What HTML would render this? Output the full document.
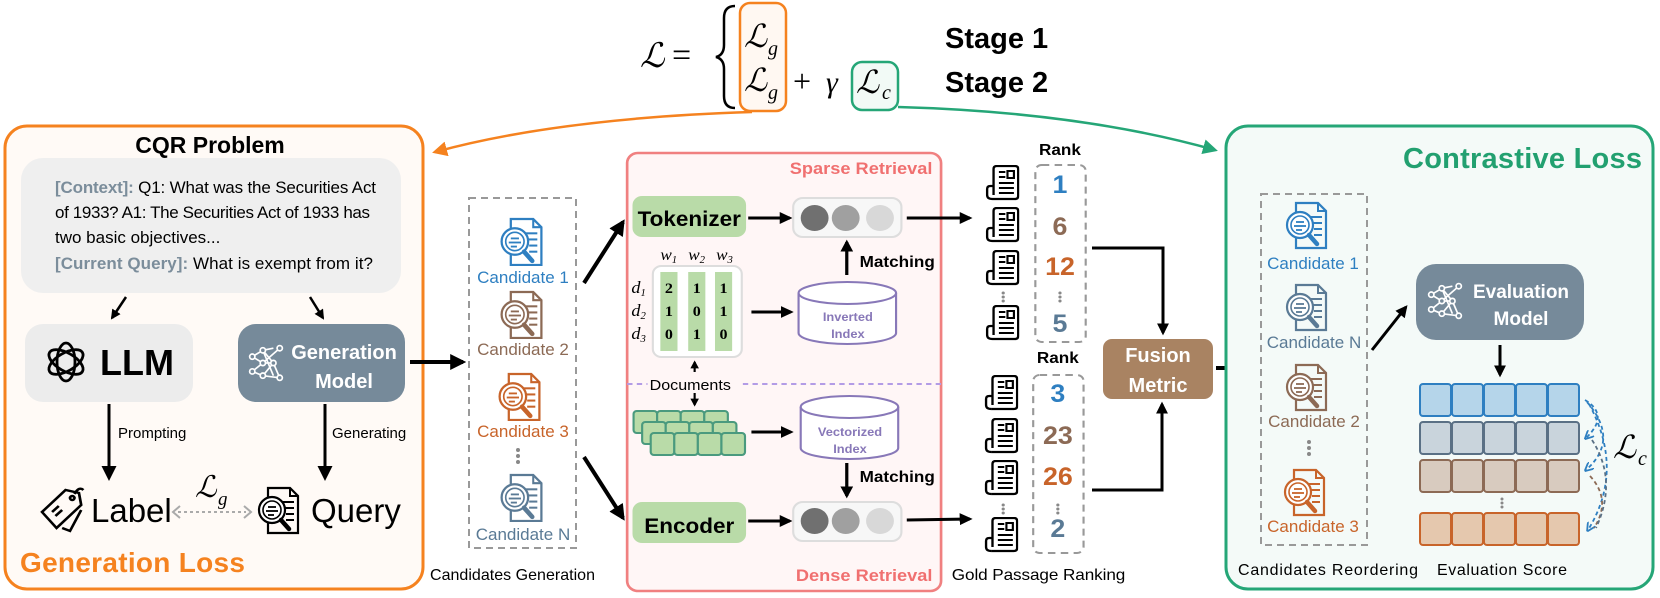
<!DOCTYPE html>
<html><head><meta charset="utf-8"><style>
html,body{margin:0;padding:0;background:#fff;}
svg{display:block;font-family:"Liberation Sans",sans-serif;}
.ser{font-family:"Liberation Serif",serif;font-style:italic;}
</style></head><body>
<svg width="1660" height="598" viewBox="0 0 1660 598" xmlns="http://www.w3.org/2000/svg">
<defs>
<marker id="ah" viewBox="0 0 10 10" refX="8" refY="5" markerWidth="5" markerHeight="5" orient="auto"><path d="M0,0 L10,5 L0,10 z" fill="#000"/></marker>
<marker id="ahs" viewBox="0 0 10 10" refX="8" refY="5" markerWidth="4" markerHeight="4" orient="auto"><path d="M0,0 L10,5 L0,10 z" fill="#000"/></marker>
<marker id="aho" viewBox="0 0 10 10" refX="8" refY="5" markerWidth="6" markerHeight="6" orient="auto"><path d="M0,0 L10,5 L0,10 z" fill="#f5821f"/></marker>
<marker id="ahg" viewBox="0 0 10 10" refX="8" refY="5" markerWidth="6" markerHeight="6" orient="auto"><path d="M0,0 L10,5 L0,10 z" fill="#25a677"/></marker>
<marker id="ahb" viewBox="0 0 10 10" refX="8" refY="5" markerWidth="5" markerHeight="5" orient="auto"><path d="M0,0 L10,5 L0,10" fill="none" stroke="#2e7fc1" stroke-width="2"/></marker>
<symbol id="cand" viewBox="0 0 44 50">
<path d="M12 2 H34 L42 10 V47 H12 Z" fill="none" stroke="currentColor" stroke-width="2.2"/>
<path d="M34 2 V10 H42" fill="none" stroke="currentColor" stroke-width="2"/>
<g stroke="currentColor" stroke-width="2"><line x1="24" y1="16" x2="38" y2="16"/><line x1="28" y1="22" x2="38" y2="22"/><line x1="30" y1="28" x2="38" y2="28"/><line x1="30" y1="34" x2="38" y2="34"/></g>
<circle cx="16" cy="24" r="13" fill="#fff" stroke="currentColor" stroke-width="2.2"/>
<circle cx="16" cy="24" r="9" fill="none" stroke="currentColor" stroke-width="1.6"/>
<g stroke="currentColor" stroke-width="1.8"><line x1="12" y1="21" x2="20" y2="21"/><line x1="10" y1="25" x2="22" y2="25"/><line x1="12" y1="29" x2="18" y2="29"/></g>
<path d="M25 34 L33 43" stroke="currentColor" stroke-width="4.5" stroke-linecap="round"/>
</symbol>
<symbol id="doc" viewBox="0 0 34 36">
<path d="M9 34 H30 Q33 34 33 31 V4 Q33 1 30 1 H13 Q10 1 10 4 V30" fill="none" stroke="#000" stroke-width="2.2"/>
<path d="M9 34 Q4 34 4 30 V24 Q4 21 7 21 H10" fill="none" stroke="#000" stroke-width="2.2"/>
<g stroke="#000" stroke-width="2"><line x1="15" y1="7" x2="21" y2="7"/><line x1="15" y1="12" x2="21" y2="12"/><rect x="23" y="6" width="6" height="7" fill="none"/><line x1="15" y1="18" x2="29" y2="18"/><line x1="15" y1="23" x2="29" y2="23"/><line x1="15" y1="28" x2="29" y2="28"/></g>
</symbol>
<symbol id="net" viewBox="0 0 34 36">
<g stroke="#fff" stroke-width="1.6" fill="none">
<line x1="4" y1="12" x2="14" y2="6"/><line x1="4" y1="12" x2="14" y2="18"/><line x1="4" y1="26" x2="14" y2="18"/><line x1="4" y1="26" x2="14" y2="30"/><line x1="14" y1="6" x2="24" y2="4"/><line x1="14" y1="6" x2="24" y2="18"/><line x1="14" y1="18" x2="24" y2="18"/><line x1="14" y1="18" x2="30" y2="4"/><line x1="14" y1="30" x2="24" y2="18"/><line x1="14" y1="30" x2="30" y2="32"/><line x1="24" y1="18" x2="30" y2="32"/><line x1="14" y1="6" x2="24" y2="30"/>
<circle cx="4" cy="12" r="2.5" fill="#768a9a"/><circle cx="4" cy="26" r="2.5" fill="#768a9a"/><circle cx="14" cy="6" r="2.5" fill="#768a9a"/><circle cx="14" cy="18" r="2.5" fill="#768a9a"/><circle cx="14" cy="30" r="2.5" fill="#768a9a"/><circle cx="24" cy="18" r="2.5" fill="#768a9a"/><circle cx="30" cy="4" r="2.5" fill="#768a9a"/><circle cx="30" cy="32" r="2.5" fill="#768a9a"/>
</g>
</symbol>
</defs>

<!-- Formula -->
<text x="640" y="67" class="ser" font-size="34">ℒ</text>
<text x="672" y="66" font-family="Liberation Serif" font-size="34">=</text>
<path d="M735 6 Q724 6 724 18 V45 Q724 55 716 57 Q724 59 724 69 V96 Q724 108 735 108" fill="none" stroke="#000" stroke-width="2.5"/>
<rect x="740" y="3" width="46" height="108" rx="10" fill="#fff8f2" stroke="#f5821f" stroke-width="2.5"/>
<text x="744" y="47" class="ser" font-size="32">ℒ</text><text x="768" y="55" class="ser" font-size="20">g</text>
<text x="744" y="91" class="ser" font-size="32">ℒ</text><text x="768" y="99" class="ser" font-size="20">g</text>
<text x="793" y="92" font-family="Liberation Serif" font-size="32">+</text>
<text x="826" y="92" class="ser" font-size="30">γ</text>
<rect x="852" y="62" width="46" height="48" rx="10" fill="#f2faf6" stroke="#25a677" stroke-width="2.5"/>
<text x="856" y="93" class="ser" font-size="32">ℒ</text><text x="882" y="99" class="ser" font-size="20">c</text>
<text x="945" y="48" font-size="29" font-weight="bold">Stage 1</text>
<text x="945" y="92" font-size="29" font-weight="bold">Stage 2</text>

<!-- top curved arrows -->
<path d="M752 112 Q560 118 435 152" fill="none" stroke="#f5821f" stroke-width="2.5" marker-end="url(#aho)"/>
<path d="M898 107 Q1080 112 1215 150" fill="none" stroke="#25a677" stroke-width="2.5" marker-end="url(#ahg)"/>

<!-- Left box -->
<rect x="5" y="126" width="418" height="463" rx="22" fill="#fffaf6" stroke="#f5821f" stroke-width="3"/>
<text x="210" y="153" font-size="23" font-weight="bold" text-anchor="middle">CQR Problem</text>
<rect x="21" y="158" width="380" height="135" rx="22" fill="#efefef"/>
<g font-size="17">
<text x="55" y="193" textLength="321"><tspan fill="#7b8d9b" font-weight="bold">[Context]:</tspan> Q1: What was the Securities Act</text>
<text x="55" y="218" textLength="315">of 1933? A1: The Securities Act of 1933 has</text>
<text x="55" y="243">two basic objectives...</text>
<text x="55" y="269" textLength="318"><tspan fill="#7b8d9b" font-weight="bold">[Current Query]:</tspan> What is exempt from it?</text>
</g>
<line x1="126" y1="297" x2="112" y2="318" stroke="#000" stroke-width="2.5" marker-end="url(#ahs)"/>
<line x1="310" y1="297" x2="323" y2="318" stroke="#000" stroke-width="2.5" marker-end="url(#ahs)"/>
<rect x="25" y="324" width="168" height="78" rx="18" fill="#ececec"/>
<g fill="none" stroke="#000" stroke-width="2.8">
<ellipse cx="66" cy="362" rx="9" ry="19"/><ellipse cx="66" cy="362" rx="9" ry="19" transform="rotate(60 66 362)"/><ellipse cx="66" cy="362" rx="9" ry="19" transform="rotate(120 66 362)"/>
</g>
<text x="100" y="375" font-size="36" font-weight="bold">LLM</text>
<rect x="238" y="324" width="167" height="78" rx="18" fill="#768a9a"/>
<use href="#net" x="248" y="344" width="36" height="38"/>
<text x="344" y="359" font-size="20" font-weight="bold" fill="#fff" text-anchor="middle">Generation</text>
<text x="344" y="388" font-size="20" font-weight="bold" fill="#fff" text-anchor="middle">Model</text>
<line x1="109" y1="404" x2="109" y2="478" stroke="#000" stroke-width="3" marker-end="url(#ah)"/>
<line x1="325" y1="404" x2="325" y2="478" stroke="#000" stroke-width="3" marker-end="url(#ah)"/>
<text x="118" y="438" font-size="15">Prompting</text>
<text x="332" y="438" font-size="15">Generating</text>
<g fill="none" stroke="#000" stroke-width="2.4" transform="translate(42,0) scale(1.12,1) translate(-37,0)">
<path d="M37 512 L58 490 L70 493 L72 505 L50 528 Z"/><path d="M55 528 L62 531 L72 510"/><circle cx="64" cy="498" r="2"/><path d="M66 494 Q70 486 74 490"/><line x1="46" y1="512" x2="52" y2="506"/><line x1="49" y1="516" x2="55" y2="510"/>
</g>
<text x="91" y="522" font-size="33">Label</text>
<line x1="178" y1="512" x2="246" y2="512" stroke="#aaa" stroke-width="2" stroke-dasharray="3,3"/>
<path d="M180 506 L173 512 L180 518 M244 506 L251 512 L244 518" fill="none" stroke="#aaa" stroke-width="2"/>
<text x="195" y="497" class="ser" font-size="30">ℒ</text><text x="218" y="505" class="ser" font-size="19">g</text>
<g color="#000"><use href="#cand" x="255" y="486" width="46" height="50"/></g>
<text x="311" y="522" font-size="33">Query</text>
<text x="20" y="572" font-size="28" font-weight="bold" fill="#f5821f" textLength="225">Generation Loss</text>

<!-- arrow to candidates -->
<line x1="410" y1="362" x2="463" y2="362" stroke="#000" stroke-width="4" marker-end="url(#ahs)"/>

<!-- candidates generation -->
<rect x="469" y="198" width="107" height="350" fill="none" stroke="#999" stroke-width="2" stroke-dasharray="7,5"/>
<g color="#2e7fc1"><use href="#cand" x="498" y="217" width="46" height="51"/></g>
<text x="523" y="283" font-size="17" fill="#2e7fc1" text-anchor="middle">Candidate 1</text>
<g color="#8c6a55"><use href="#cand" x="498" y="290" width="46" height="51"/></g>
<text x="523" y="355" font-size="17" fill="#8c6a55" text-anchor="middle">Candidate 2</text>
<g color="#c8642a"><use href="#cand" x="496" y="372" width="46" height="51"/></g>
<text x="523" y="437" font-size="17" fill="#c8642a" text-anchor="middle">Candidate 3</text>
<g fill="#888"><circle cx="518" cy="450" r="2"/><circle cx="518" cy="456" r="2"/><circle cx="518" cy="462" r="2"/></g>
<g color="#5a7a95"><use href="#cand" x="498" y="473" width="46" height="51"/></g>
<text x="523" y="540" font-size="17" fill="#5a7a95" text-anchor="middle">Candidate N</text>
<text x="430" y="580" font-size="16" textLength="165">Candidates Generation</text>

<line x1="584" y1="283" x2="623" y2="222" stroke="#000" stroke-width="4" marker-end="url(#ahs)"/>
<line x1="584" y1="457" x2="623" y2="518" stroke="#000" stroke-width="4" marker-end="url(#ahs)"/>

<!-- middle section (x-stretched) -->
<g transform="translate(580,0) scale(1.0714,1) translate(-580,0)">
<rect x="624" y="153" width="293" height="438" rx="10" fill="#fff6f6" stroke="#f08080" stroke-width="2.5"/>
<text x="909" y="174" font-size="17" font-weight="bold" fill="#f07070" text-anchor="end">Sparse Retrieval</text>
<text x="909" y="581" font-size="17" font-weight="bold" fill="#f07070" text-anchor="end">Dense Retrieval</text>
<line x1="624" y1="384" x2="917" y2="384" stroke="#b39ce6" stroke-width="2" stroke-dasharray="5,4"/>
<rect x="629" y="196" width="106" height="41" rx="9" fill="#b9dba8"/>
<text x="682" y="226" font-size="21" font-weight="bold" text-anchor="middle">Tokenizer</text>
<line x1="737" y1="218" x2="776" y2="218" stroke="#000" stroke-width="3" marker-end="url(#ahs)"/>
<rect x="779" y="198" width="101" height="39" rx="9" fill="#f7f7f7" stroke="#ddd" stroke-width="2"/>
<circle cx="799" cy="218" r="13" fill="#707070"/><circle cx="828" cy="218" r="13" fill="#a0a0a0"/><circle cx="860" cy="218" r="13" fill="#d8d8d8"/>
<line x1="885" y1="218" x2="944" y2="218" stroke="#000" stroke-width="3" marker-end="url(#ahs)"/>
<line x1="829" y1="275" x2="829" y2="242" stroke="#000" stroke-width="3" marker-end="url(#ahs)"/>
<text x="841" y="267" font-size="16" font-weight="bold">Matching</text>
<g class="ser" font-size="16"><text x="655" y="260">w<tspan font-size="10" dy="3">1</tspan></text><text x="681" y="260">w<tspan font-size="10" dy="3">2</tspan></text><text x="707" y="260">w<tspan font-size="10" dy="3">3</tspan></text></g>
<rect x="648" y="266" width="83" height="91" rx="8" fill="#fff" stroke="#ddd" stroke-width="2"/>
<rect x="655" y="272" width="16" height="79" fill="#b9dba8"/><rect x="681" y="272" width="16" height="79" fill="#b9dba8"/><rect x="706" y="272" width="16" height="79" fill="#b9dba8"/>
<g font-family="Liberation Serif" font-weight="bold" font-size="15" text-anchor="middle">
<text x="663" y="293">2</text><text x="689" y="293">1</text><text x="714" y="293">1</text>
<text x="663" y="316">1</text><text x="689" y="316">0</text><text x="714" y="316">1</text>
<text x="663" y="339">0</text><text x="689" y="339">1</text><text x="714" y="339">0</text></g>
<g class="ser" font-size="17"><text x="628" y="293">d<tspan font-size="10" dy="3">1</tspan></text><text x="628" y="316">d<tspan font-size="10" dy="3">2</tspan></text><text x="628" y="339">d<tspan font-size="10" dy="3">3</tspan></text></g>
<line x1="740" y1="312" x2="777" y2="312" stroke="#000" stroke-width="3" marker-end="url(#ahs)"/>
<g fill="#fff" stroke="#8878b8" stroke-width="2"><path d="M784 293 V333 A45.5 11 0 0 0 875 333 V293"/><ellipse cx="829.5" cy="293" rx="45.5" ry="11"/></g>
<text x="830" y="321" font-size="12" font-weight="bold" fill="#8878b8" text-anchor="middle">Inverted</text>
<text x="830" y="338" font-size="12" font-weight="bold" fill="#8878b8" text-anchor="middle">Index</text>
<line x1="687" y1="372" x2="687" y2="362" stroke="#000" stroke-width="2" marker-end="url(#ahs)"/>
<line x1="687" y1="393" x2="687" y2="405" stroke="#000" stroke-width="2" marker-end="url(#ahs)"/>
<rect x="643" y="377" width="88" height="16" fill="#fff6f6"/>
<text x="645" y="390" font-size="15">Documents</text>
<g fill="#b9dba8" stroke="#4a9a7e" stroke-width="2">
<rect x="630" y="411" width="22" height="22" rx="3"/><rect x="652" y="411" width="22" height="22" rx="3"/><rect x="674" y="411" width="22" height="22" rx="3"/><rect x="696" y="411" width="22" height="22" rx="3"/>
<rect x="638" y="422" width="22" height="22" rx="3"/><rect x="660" y="422" width="22" height="22" rx="3"/><rect x="682" y="422" width="22" height="22" rx="3"/><rect x="704" y="422" width="22" height="22" rx="3"/>
<rect x="646" y="433" width="22" height="22" rx="3"/><rect x="668" y="433" width="22" height="22" rx="3"/><rect x="690" y="433" width="22" height="22" rx="3"/><rect x="712" y="433" width="22" height="22" rx="3"/></g>
<line x1="740" y1="432" x2="777" y2="432" stroke="#000" stroke-width="3" marker-end="url(#ahs)"/>
<g fill="#fff" stroke="#8878b8" stroke-width="2"><path d="M786 407 V448 A45.5 11 0 0 0 877 448 V407"/><ellipse cx="831.5" cy="407" rx="45.5" ry="11"/></g>
<text x="832" y="436" font-size="12" font-weight="bold" fill="#8878b8" text-anchor="middle">Vectorized</text>
<text x="832" y="453" font-size="12" font-weight="bold" fill="#8878b8" text-anchor="middle">Index</text>
<line x1="829" y1="463" x2="829" y2="496" stroke="#000" stroke-width="3" marker-end="url(#ahs)"/>
<text x="841" y="482" font-size="16" font-weight="bold">Matching</text>
<rect x="629" y="502" width="106" height="41" rx="9" fill="#b9dba8"/>
<text x="682" y="533" font-size="21" font-weight="bold" text-anchor="middle">Encoder</text>
<line x1="737" y1="521" x2="776" y2="521" stroke="#000" stroke-width="3" marker-end="url(#ahs)"/>
<rect x="779" y="502" width="101" height="39" rx="9" fill="#f7f7f7" stroke="#ddd" stroke-width="2"/>
<circle cx="799" cy="521" r="13" fill="#707070"/><circle cx="828" cy="521" r="13" fill="#a0a0a0"/><circle cx="860" cy="521" r="13" fill="#d8d8d8"/>
<line x1="885" y1="520" x2="944" y2="519" stroke="#000" stroke-width="3" marker-end="url(#ahs)"/>

<use href="#doc" x="956" y="165" width="34" height="36"/><use href="#doc" x="956" y="207" width="34" height="36"/><use href="#doc" x="956" y="250" width="34" height="36"/>
<use href="#doc" x="956" y="305" width="34" height="36"/>
<use href="#doc" x="955" y="375" width="34" height="36"/><use href="#doc" x="955" y="418" width="34" height="36"/><use href="#doc" x="955" y="460" width="34" height="36"/>
<use href="#doc" x="955" y="517" width="34" height="36"/>
<g fill="#888"><circle cx="975" cy="293" r="1.5"/><circle cx="975" cy="297" r="1.5"/><circle cx="975" cy="301" r="1.5"/><circle cx="975" cy="505" r="1.5"/><circle cx="975" cy="509" r="1.5"/><circle cx="975" cy="513" r="1.5"/>
<circle cx="1028" cy="293" r="1.5"/><circle cx="1028" cy="297" r="1.5"/><circle cx="1028" cy="301" r="1.5"/><circle cx="1026" cy="505" r="1.5"/><circle cx="1026" cy="509" r="1.5"/><circle cx="1026" cy="513" r="1.5"/></g>
<text x="1028" y="155" font-size="16" font-weight="bold" text-anchor="middle">Rank</text>
<text x="1026" y="363" font-size="16" font-weight="bold" text-anchor="middle">Rank</text>
<rect x="1005" y="165" width="47" height="177" rx="6" fill="none" stroke="#999" stroke-width="2" stroke-dasharray="7,5"/>
<rect x="1003" y="375" width="47" height="178" rx="6" fill="none" stroke="#999" stroke-width="2" stroke-dasharray="7,5"/>
<g font-size="25" font-weight="bold" text-anchor="middle">
<text x="1028" y="193" fill="#2e7fc1">1</text><text x="1028" y="235" fill="#8c6a55">6</text><text x="1028" y="275" fill="#c8642a">12</text><text x="1028" y="332" fill="#5a7a95">5</text>
<text x="1026" y="402" fill="#2e7fc1">3</text><text x="1026" y="444" fill="#8c6a55">23</text><text x="1026" y="485" fill="#c8642a">26</text><text x="1026" y="537" fill="#5a7a95">2</text></g>
<text x="927" y="580" font-size="16" textLength="162">Gold Passage Ranking</text>
</g>

<path d="M1092 248 H1163 V333" fill="none" stroke="#000" stroke-width="3" marker-end="url(#ahs)"/>
<path d="M1092 490 H1162 V404" fill="none" stroke="#000" stroke-width="3" marker-end="url(#ahs)"/>
<rect x="1103" y="339" width="110" height="60" rx="9" fill="#a98362"/>
<text x="1158" y="362" font-size="20" font-weight="bold" fill="#fff" text-anchor="middle">Fusion</text>
<text x="1158" y="392" font-size="20" font-weight="bold" fill="#fff" text-anchor="middle">Metric</text>
<line x1="1216" y1="368" x2="1254" y2="368" stroke="#000" stroke-width="4" marker-end="url(#ahs)"/>

<!-- contrastive box -->
<rect x="1226" y="126" width="427" height="463" rx="22" fill="#f4faf8" stroke="#25a677" stroke-width="3"/>
<text x="1642" y="168" font-size="29" font-weight="bold" fill="#22a070" text-anchor="end" textLength="239">Contrastive Loss</text>
<rect x="1261" y="194" width="106" height="351" fill="none" stroke="#999" stroke-width="2" stroke-dasharray="7,5"/>
<g color="#2e7fc1"><use href="#cand" x="1284" y="200" width="44" height="52"/></g>
<text x="1313" y="269" font-size="17" fill="#2e7fc1" text-anchor="middle">Candidate 1</text>
<g color="#5a7a95"><use href="#cand" x="1284" y="282" width="44" height="52"/></g>
<text x="1314" y="348" font-size="17" fill="#5a7a95" text-anchor="middle">Candidate N</text>
<g color="#8c6a55"><use href="#cand" x="1284" y="362" width="44" height="52"/></g>
<text x="1314" y="427" font-size="17" fill="#8c6a55" text-anchor="middle">Candidate 2</text>
<g fill="#888"><circle cx="1309" cy="442" r="2"/><circle cx="1309" cy="448" r="2"/><circle cx="1309" cy="454" r="2"/></g>
<g color="#c8642a"><use href="#cand" x="1282" y="467" width="44" height="52"/></g>
<text x="1313" y="532" font-size="17" fill="#c8642a" text-anchor="middle">Candidate 3</text>
<text x="1238" y="575" font-size="16" textLength="180">Candidates Reordering</text>
<text x="1437" y="575" font-size="16" textLength="130">Evaluation Score</text>
<line x1="1372" y1="350" x2="1406" y2="307" stroke="#000" stroke-width="3" marker-end="url(#ahs)"/>
<rect x="1416" y="264" width="168" height="76" rx="20" fill="#768a9a"/>
<use href="#net" x="1427" y="282" width="36" height="38"/>
<text x="1521" y="298" font-size="19" font-weight="bold" fill="#fff" text-anchor="middle">Evaluation</text>
<text x="1521" y="325" font-size="19" font-weight="bold" fill="#fff" text-anchor="middle">Model</text>
<line x1="1500" y1="345" x2="1500" y2="375" stroke="#000" stroke-width="3" marker-end="url(#ahs)"/>
<g stroke-width="2">
<g fill="#b5d5ea" stroke="#2e7fc1"><rect x="1420" y="384" width="31" height="32" rx="3"/><rect x="1452" y="384" width="31" height="32" rx="3"/><rect x="1484" y="384" width="31" height="32" rx="3"/><rect x="1516" y="384" width="31" height="32" rx="3"/><rect x="1548" y="384" width="31" height="32" rx="3"/></g>
<g fill="#c9d4dc" stroke="#5a7085"><rect x="1420" y="422" width="31" height="32" rx="3"/><rect x="1452" y="422" width="31" height="32" rx="3"/><rect x="1484" y="422" width="31" height="32" rx="3"/><rect x="1516" y="422" width="31" height="32" rx="3"/><rect x="1548" y="422" width="31" height="32" rx="3"/></g>
<g fill="#d8cbbf" stroke="#8c6a55"><rect x="1420" y="460" width="31" height="32" rx="3"/><rect x="1452" y="460" width="31" height="32" rx="3"/><rect x="1484" y="460" width="31" height="32" rx="3"/><rect x="1516" y="460" width="31" height="32" rx="3"/><rect x="1548" y="460" width="31" height="32" rx="3"/></g>
<g fill="#e5c8ae" stroke="#c8642a"><rect x="1420" y="513" width="31" height="32" rx="3"/><rect x="1452" y="513" width="31" height="32" rx="3"/><rect x="1484" y="513" width="31" height="32" rx="3"/><rect x="1516" y="513" width="31" height="32" rx="3"/><rect x="1548" y="513" width="31" height="32" rx="3"/></g>
</g>
<g fill="#888"><circle cx="1502" cy="499" r="1.5"/><circle cx="1502" cy="503" r="1.5"/><circle cx="1502" cy="507" r="1.5"/></g>
<g fill="none" stroke-width="1.8" stroke-dasharray="4,3">
<path d="M1585 400 Q1610 415 1586 438" stroke="#2e7fc1" marker-end="url(#ahb)"/>
<path d="M1587 402 Q1620 440 1586 470" stroke="#2e7fc1" marker-end="url(#ahb)"/>
<path d="M1589 404 Q1625 470 1588 530" stroke="#2e7fc1" marker-end="url(#ahb)"/>
<path d="M1590 476 Q1612 500 1594 528" stroke="#8c6a55"/>
<path d="M1592 440 Q1618 480 1596 528" stroke="#5a7085"/>
</g>
<text x="1613" y="458" class="ser" font-size="32">ℒ</text><text x="1638" y="465" class="ser" font-size="20">c</text>
</svg>
</body></html>
